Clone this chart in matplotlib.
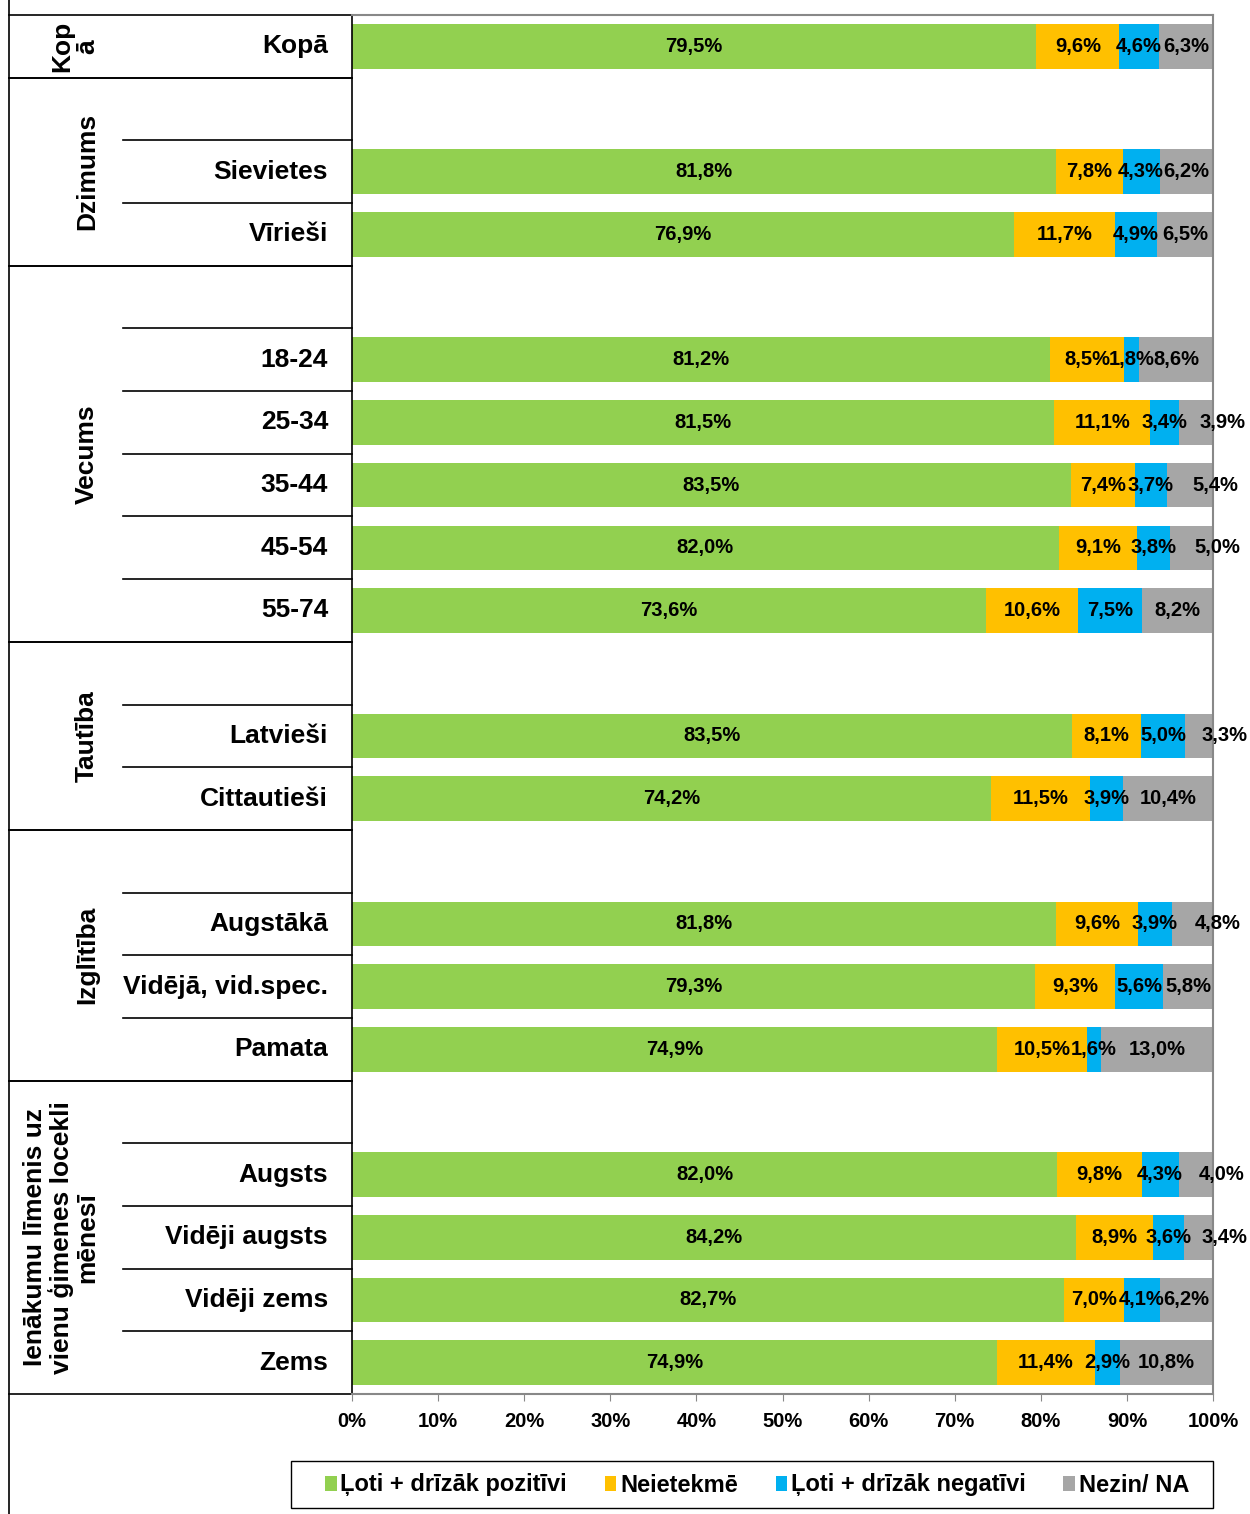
import matplotlib
matplotlib.use('Agg')
import matplotlib.pyplot as plt
import matplotlib.transforms as mtransforms
from matplotlib.patches import Patch, Rectangle
from matplotlib.lines import Line2D
import numpy as np

plt.rcParams['font.family'] = ['Liberation Sans', 'DejaVu Sans']
plt.rcParams['font.weight'] = 'bold'

# --- data -------------------------------------------------------------
group_labels = ["Kop\nā", "Dzimums", "Vecums", "Tautība", "Izglītība",
                "Ienākumu līmenis uz\nvienu ģimenes locekli\nmēnesī"]
group_members = [
    ["Kopā"],
    ["Sievietes", "Vīrieši"],
    ["18-24", "25-34", "35-44", "45-54", "55-74"],
    ["Latvieši", "Cittautieši"],
    ["Augstākā", "Vidējā, vid.spec.", "Pamata"],
    ["Augsts", "Vidēji augsts", "Vidēji zems", "Zems"],
]
series_names = ["Ļoti + drīzāk pozitīvi", "Neietekmē",
                "Ļoti + drīzāk negatīvi", "Nezin/ NA"]
positive = [79.5, 81.8, 76.9, 81.2, 81.5, 83.5, 82.0, 73.6, 83.5, 74.2,
            81.8, 79.3, 74.9, 82.0, 84.2, 82.7, 74.9]
neutral = [9.6, 7.8, 11.7, 8.5, 11.1, 7.4, 9.1, 10.6, 8.1, 11.5,
           9.6, 9.3, 10.5, 9.8, 8.9, 7.0, 11.4]
negative = [4.6, 4.3, 4.9, 1.8, 3.4, 3.7, 3.8, 7.5, 5.0, 3.9,
            3.9, 5.6, 1.6, 4.3, 3.6, 4.1, 2.9]
unknown = [6.3, 6.2, 6.5, 8.6, 3.9, 5.4, 5.0, 8.2, 3.3, 10.4,
           4.8, 5.8, 13.0, 4.0, 3.4, 6.2, 10.8]
colors = ['#92D050', '#FFC000', '#00B0F0', '#A6A6A6']

# --- row layout: blank row before every group except the first --------
ypos, names, spans = [], [], []
row = 0
for gi, members in enumerate(group_members):
    start = row
    if gi > 0:
        row += 1
    for m in members:
        ypos.append(row)
        names.append(m)
        row += 1
    spans.append((start, row - 1))
n_rows = row

W, H = 1250, 1514
fig = plt.figure(figsize=(W / 100, H / 100), dpi=100)
ax = fig.add_axes([352 / W, 1 - 1394 / H, 861 / W, 1379 / H])

data = np.array([positive, neutral, negative, unknown])
shares = data / data.sum(axis=0) * 100

left = np.zeros(len(ypos))
for i in range(4):
    ax.barh(ypos, shares[i], left=left, height=0.71, color=colors[i],
            label=series_names[i], zorder=2)
    for y, l, s, raw in zip(ypos, left, shares[i], data[i]):
        xc = l + s / 2
        # narrow "Nezin" segments get their label nudged outward, as Excel did
        if i == 3 and s < 5.5:
            xc += 3.0
        ax.text(xc, y, f"{raw:.1f}".replace('.', ',') + '%',
                ha='center', va='center', fontsize=14.5, fontweight='bold',
                zorder=3)
    left += shares[i]

ax.set_xlim(0, 100)
ax.set_ylim(n_rows - 0.5, -0.5)
ax.set_xticks(np.arange(0, 101, 10))
ax.set_xticklabels([f"{t}%" for t in range(0, 101, 10)])
ax.set_yticks([])
ax.tick_params(axis='x', direction='out', length=5, color='#888888',
               labelsize=14.5, pad=8)
for side in ['top', 'right', 'bottom']:
    ax.spines[side].set_color('#888888')
    ax.spines[side].set_linewidth(1.5)
ax.spines['left'].set_color('black')
ax.spines['left'].set_linewidth(1.2)

# --- left-hand table ---------------------------------------------------
trans = mtransforms.blended_transform_factory(ax.transAxes, ax.transData)
x_outer = (9 - 352) / 861
x_inner = (123 - 352) / 861

for y, name in zip(ypos, names):
    ax.text((328 - 352) / 861, y, name, transform=trans, ha='right',
            va='center', fontsize=19, fontweight='bold')

for label, (s, e) in zip(group_labels, spans):
    ax.text((99 - 352) / 861, (s + e) / 2, label, transform=trans,
            rotation=90, ha='right', va='center', multialignment='center',
            fontsize=19, fontweight='bold', linespacing=1.05)
    for b in range(s, e):
        ax.add_line(Line2D([x_inner, 0], [b + 0.5, b + 0.5], transform=trans,
                           color='black', lw=1.2, clip_on=False))
    for b in (s - 0.5, e + 0.5):
        ax.add_line(Line2D([x_outer, 0], [b, b], transform=trans,
                           color='black', lw=1.2, clip_on=False))

fig.add_artist(Line2D([9 / W, 9 / W], [0, 1], transform=fig.transFigure,
                      color='black', lw=1.2))

# --- legend ------------------------------------------------------------
fig.add_artist(Rectangle((291 / W, 1 - 1508 / H), 922 / W, 47 / H,
                         transform=fig.transFigure, fill=False,
                         edgecolor='black', lw=1.0))
handles = [Patch(facecolor=c, edgecolor='none') for c in colors]
fig.legend(handles, series_names, loc='center', ncol=4, frameon=False,
           bbox_to_anchor=(757 / W, 1 - 1485 / H),
           handlelength=0.5, handleheight=0.6, handletextpad=0.15,
           columnspacing=1.6, borderaxespad=0, borderpad=0,
           prop={'weight': 'bold', 'size': 17})

fig.savefig('out.png', dpi=100, facecolor='white')
